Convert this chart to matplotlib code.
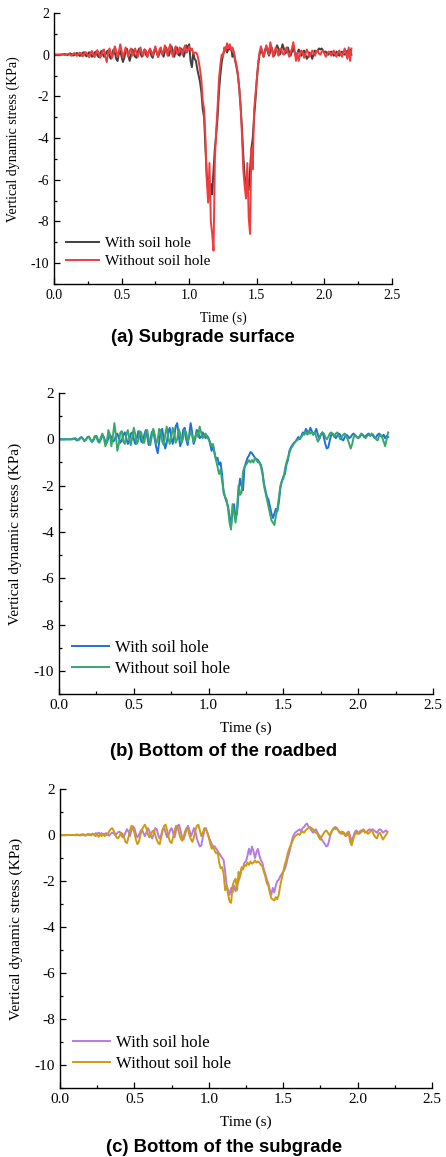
import numpy as np
import matplotlib
matplotlib.use("Agg")
import matplotlib.pyplot as plt
from matplotlib.ticker import MultipleLocator


plt.rcParams["font.family"] = ["Liberation Serif", "DejaVu Serif"]
plt.rcParams["axes.unicode_minus"] = False

# time axis, 0.00 .. 2.20 s every 0.01 s
time_s = np.round(np.arange(221) * 0.01, 2)

# (a) Subgrade surface
a_with = [
    0, 0, 0, 0, 0, 0, 0, 0.02, 0.03, 0.01,
    -0.02, 0.03, 0.06, 0.02, -0.04, -0.02, 0.05, 0.08, 0.02, -0.06,
    -0.03, 0.08, 0.12, 0.0, -0.08, 0.02, 0.12, 0.05, -0.1, -0.05,
    0.1, 0.15, -0.02, -0.12, 0.05, 0.18, 0.05, -0.1, -0.02, 0.15,
    0.2, -0.05, -0.2, 0.05, 0.25, 0.1, -0.2, -0.3, 0.05, 0.2,
    -0.1, -0.35, -0.15, 0.2, 0.28, -0.05, -0.3, 0.0, 0.25, 0.15,
    -0.1, -0.15, 0.15, 0.3, 0.05, -0.1, 0.1, 0.25, 0.0, -0.1,
    0.15, 0.25, -0.05, -0.15, 0.1, 0.3, 0.1, -0.1, 0.05, 0.25,
    0.1, -0.1, 0.15, 0.35, 0.1, -0.05, 0.2, 0.4, 0.05, -0.1,
    0.2, 0.35, 0.0, -0.05, 0.3, 0.2, -0.1, 0.15, 0.45, 0.3,
    0.5, -0.3, -0.6, 0.1, -0.2, -0.3, -0.7, -1.0, -1.3, -1.8,
    -2.6, -3.0, -4.5, -5.8, -6.5, -6.8, -6.2, -6.7, -5.5, -4.5,
    -3.8, -3.0, -1.8, -1.0, -0.4, 0.0, 0.2, 0.35, 0.1, 0.3,
    0.25, 0.35, -0.1, 0.05, -0.3, -0.6, -1.0, -1.6, -2.5, -3.5,
    -4.8, -5.8, -6.3, -6.0, -6.5, -5.5, -4.5, -4.0, -3.0, -2.2,
    -1.2, -0.5, 0.0, 0.2, 0.1, -0.1, 0.2, 0.4, 0.15, -0.05,
    0.15, 0.35, 0.1, -0.05, 0.2, 0.45, 0.3, 0.0, 0.2, 0.5,
    0.3, 0.05, 0.15, 0.35, 0.1, -0.05, 0.15, 0.3, 0.1, -0.1,
    0.05, 0.25, 0.15, -0.05, 0.1, 0.2, 0.0, -0.2, -0.1, 0.1,
    0.0, -0.2, 0.05, 0.2, 0.1, 0.2, 0.3, 0.25, 0.3, 0.2,
    0.1, 0.15, 0.05, 0.0, 0.1, 0.15, 0.05, -0.05, 0.05, 0.15,
    0.05, -0.05, 0.1, 0.15, 0.05, 0.0, 0.1, 0.2, 0.05, 0.25,
    0.0,
]
a_without = [
    0, 0, 0, 0, 0, 0, 0.02, 0.01, -0.02, 0.0,
    0.03, 0.05, -0.02, -0.05, 0.04, 0.08, 0.0, -0.06, 0.03, 0.1,
    0.05, -0.08, -0.03, 0.12, 0.1, -0.05, -0.12, 0.08, 0.18, 0.0,
    -0.12, 0.05, 0.22, 0.1, -0.15, -0.05, 0.2, 0.25, -0.1, -0.35,
    0.05, 0.3, 0.1, -0.15, 0.1, 0.4, 0.2, -0.1, 0.15, 0.5,
    0.2, -0.15, 0.1, 0.35, 0.1, -0.1, 0.2, 0.3, -0.05, 0.05,
    0.3, 0.1, -0.1, 0.15, 0.35, 0.05, -0.05, 0.25, 0.2, -0.1,
    0.1, 0.3, 0.15, -0.05, 0.2, 0.4, 0.1, -0.1, 0.25, 0.35,
    0.0, 0.15, 0.45, 0.2, -0.05, 0.3, 0.5, 0.1, -0.1, 0.25,
    0.4, 0.05, 0.1, 0.35, 0.2, 0.0, 0.3, 0.45, 0.1, 0.2,
    0.4, 0.2, 0.3, 0.05, 0.1, 0.1, 0.0, -0.3, -0.7, -1.2,
    -2.2, -2.6, -4.0, -6.0, -7.1, -5.2, -8.0, -8.6, -9.4, -5.0,
    -3.6, -2.5, -1.2, -0.5, 0.0, -0.1, 0.35, 0.2, 0.55, 0.3,
    0.5, 0.2, 0.35, 0.15, -0.2, -0.5, -0.9, -1.6, -2.4, -3.8,
    -5.5, -6.3, -6.9, -5.2, -7.8, -8.6, -4.5, -5.5, -2.7, -1.9,
    -1.2, -0.4, 0.1, 0.4, 0.2, -0.1, 0.1, 0.45, 0.3, 0.0,
    0.6, 0.3, -0.1, 0.1, 0.35, 0.15, -0.05, 0.25, 0.3, 0.05,
    0.0, 0.2, 0.35, 0.1, -0.1, 0.1, 0.3, 0.6, 0.2, -0.3,
    0.1, -0.3, 0.0, 0.2, 0.1, -0.15, 0.05, 0.25, 0.1, -0.1,
    0.05, 0.2, 0.1, -0.05, 0.15, 0.2, 0.05, 0.0, 0.15, 0.2,
    0.05, -0.1, 0.0, 0.15, 0.1, -0.05, 0.1, 0.2, 0.0, -0.1,
    0.1, 0.2, 0.05, -0.1, 0.1, 0.3, 0.05, -0.2, 0.35, -0.3,
    0.3,
]

# (b) Bottom of the roadbed
b_with = [
    0, 0, 0, 0, 0, 0, 0, 0, 0, 0.02,
    0.04, 0.0, -0.05, -0.02, 0.06, 0.1, 0.02, -0.08, -0.02, 0.1,
    0.12, 0.0, -0.1, -0.05, 0.1, 0.15, 0.0, -0.12, 0.0, 0.15,
    0.1, -0.1, -0.15, 0.05, 0.2, 0.1, -0.1, -0.05, 0.15, 0.25,
    0.05, -0.15, -0.05, 0.2, 0.3, 0.05, -0.2, -0.05, 0.25, 0.3,
    0.0, -0.2, 0.05, 0.35, 0.2, -0.1, -0.15, 0.2, 0.4, 0.1,
    -0.25, -0.1, 0.3, 0.4, 0.0, -0.35, -0.6, -0.1, 0.35, 0.45,
    0.0, -0.4, -0.15, 0.3, 0.5, 0.1, -0.2, 0.1, 0.55, 0.7,
    0.2, -0.3, -0.1, 0.4, 0.5, 0.0, -0.25, 0.2, 0.7, 0.3,
    -0.2, 0.0, 0.4, 0.35, 0.05, 0.1, 0.3, 0.2, 0.05, 0.15,
    0.05, -0.2, -0.5, -0.3, -0.6, -0.9, -0.8, -1.1, -1.0, -1.5,
    -2.3, -2.5, -2.7, -2.9, -3.3, -3.8, -3.0, -2.8, -3.4, -3.2,
    -2.3, -1.7, -2.0, -2.2, -1.2, -1.0, -0.8, -0.7, -0.55, -0.6,
    -0.7, -0.8, -0.85, -0.9, -1.0, -1.1, -1.4, -1.9, -2.2, -2.5,
    -2.6, -2.9, -3.2, -3.4, -3.2, -3.0, -3.1, -2.7, -2.1, -1.8,
    -1.6, -1.5, -1.1, -0.9, -0.5, -0.35, -0.25, -0.15, -0.1, 0.0,
    0.1, 0.0, 0.15, 0.3, 0.2, 0.45, 0.35, 0.25, 0.5, 0.35,
    0.2, 0.3, 0.45, 0.2, 0.05, 0.2, 0.3, 0.1, -0.2, -0.4,
    -0.35, -0.05, 0.2, 0.25, 0.15, 0.05, 0.15, 0.25, 0.2, 0.0,
    -0.05, 0.1, 0.2, 0.15, 0.05, 0.1, 0.2, 0.25, 0.15, 0.1,
    0.05, 0.1, 0.2, 0.2, 0.1, 0.15, 0.2, 0.25, 0.15, 0.2,
    0.15, 0.05, 0.1, 0.2, 0.25, 0.15, 0.1, 0.2, 0.05, 0.15,
    0.1,
]
b_without = [
    0, 0, 0, 0, 0, 0, 0, 0, 0, 0,
    0.02, 0.05, 0.0, -0.04, 0.02, 0.08, 0.03, -0.06, -0.02, 0.08,
    0.1, -0.02, -0.12, 0.0, 0.15, 0.12, -0.1, -0.15, 0.1, 0.25,
    0.05, -0.3, -0.1, 0.4, 0.2, -0.3, 0.1, 0.7, 0.2, -0.5,
    -0.2, 0.3, 0.35, -0.1, -0.2, 0.2, 0.4, 0.0, -0.25, 0.1,
    0.5, 0.2, -0.2, -0.05, 0.35, 0.3, -0.1, -0.15, 0.3, 0.4,
    0.0, -0.25, 0.1, 0.45, 0.2, -0.2, 0.0, 0.45, 0.35, -0.1,
    -0.25, 0.2, 0.55, 0.1, -0.2, 0.05, 0.5, 0.3, -0.15, 0.0,
    0.45, 0.25, -0.15, 0.05, 0.4, 0.3, -0.1, 0.1, 0.35, 0.15,
    -0.1, 0.1, 0.3, 0.1, 0.55, 0.3, 0.05, 0.15, 0.25, 0.1,
    0.0, -0.1, -0.3, -0.2, -0.6, -0.9, -1.2, -1.5, -1.3, -1.8,
    -2.2, -2.5, -2.6, -3.0, -3.6, -3.9, -2.8, -3.2, -3.6, -3.0,
    -2.0, -2.4, -2.3, -1.4, -1.2, -1.1, -1.0, -0.9, -1.0, -0.9,
    -1.0, -0.8, -0.9, -1.0, -1.0, -1.2, -1.5, -2.0, -2.3, -2.6,
    -2.9, -3.2, -3.5, -3.6, -3.7, -3.3, -3.0, -2.5, -2.0, -1.8,
    -1.7, -1.3, -1.0, -0.8, -0.6, -0.4, -0.3, -0.2, -0.1, -0.05,
    0.0, 0.05, 0.1, 0.2, 0.25, 0.3, 0.2, 0.35, 0.25, 0.3,
    0.2, 0.3, 0.1, -0.1, 0.0, 0.2, 0.3, 0.25, 0.1, 0.0,
    0.1, 0.25, 0.3, 0.2, 0.1, 0.25, 0.3, 0.15, 0.0, 0.1,
    0.2, 0.25, 0.1, 0.0, -0.2, -0.4, -0.2, 0.1, 0.2, 0.1,
    0.05, 0.15, 0.25, 0.2, 0.1, 0.05, 0.15, 0.2, 0.15, 0.25,
    0.2, 0.1, 0.0, -0.05, 0.15, 0.2, 0.1, -0.1, -0.3, 0.0,
    0.3,
]

# (c) Bottom of the subgrade
c_with = [
    0, 0, 0, 0, 0, 0, 0, 0, 0, 0,
    0, 0.02, 0, -0.02, 0.02, 0, 0.03, -0.02, 0.02, 0.05,
    0.0, 0.03, 0.06, 0.02, 0.08, 0.05, 0.1, 0.05, 0.08, 0.02,
    0.05, 0.08, 0.02, -0.03, 0.05, 0.1, 0.08, 0.0, 0.05, 0.12,
    0.15, 0.05, -0.1, -0.05, 0.1, 0.25, 0.15, -0.05, 0.2, 0.38,
    0.3, 0.05, -0.1, 0.0, 0.15, 0.25, 0.1, -0.05, 0.1, 0.3,
    0.2, -0.05, -0.15, 0.05, 0.3, 0.25, 0.0, -0.15, 0.0, 0.25,
    0.3, 0.1, -0.1, 0.0, 0.2, 0.3, 0.1, -0.1, 0.2, 0.4,
    0.45, 0.2, -0.1, -0.2, 0.0, 0.25, 0.4, 0.2, -0.05, 0.1,
    0.3, 0.15, -0.15, -0.35, -0.5, -0.45, -0.1, 0.2, 0.3, 0.1,
    -0.1, -0.25, -0.4, -0.5, -0.5, -0.6, -0.7, -0.8, -0.9, -1.0,
    -1.1, -1.6, -2.2, -2.4, -2.6, -2.3, -2.5, -2.2, -2.45, -2.2,
    -2.0, -1.8, -1.5, -1.4, -1.2, -1.15, -0.9, -0.6, -0.85, -0.5,
    -0.7, -1.0, -0.75, -0.6, -0.9, -1.1, -1.2, -1.5, -1.7, -1.95,
    -2.1, -2.4, -2.6, -2.3, -2.5, -2.2, -2.0, -1.95, -1.8, -1.7,
    -1.6, -1.5, -1.3, -1.0, -0.8, -0.5, -0.2, 0.0, 0.1, 0.15,
    0.2, 0.25, 0.15, 0.3, 0.35, 0.45, 0.5, 0.35, 0.3, 0.2,
    0.1, 0.2, 0.25, 0.1, 0.0, -0.1, -0.2, -0.3, -0.4, -0.5,
    -0.45, -0.2, 0.1, 0.2, 0.3, 0.35, 0.3, 0.2, 0.1, 0.05,
    0.15, 0.05, -0.05, 0.1, 0.15, -0.05, -0.3, -0.1, 0.1, 0.2,
    0.15, 0.05, 0.1, 0.2, 0.25, 0.15, 0.1, 0.2, 0.25, 0.2,
    0.25, 0.2, 0.15, 0.1, 0.2, 0.25, 0.2, 0.1, 0.15, 0.2,
    0.15,
]
c_without = [
    0, 0, 0, 0, 0, 0, 0, 0, 0, 0,
    0.0, -0.02, 0.02, 0.0, -0.02, 0.03, 0.0, -0.03, 0.02, 0.0,
    0.03, -0.02, 0.05, 0.0, -0.05, 0.03, -0.08, 0.02, -0.05, 0.05,
    -0.05, 0.0, 0.05, 0.15, 0.25, 0.3, 0.2, 0.05, -0.1, -0.15,
    -0.05, 0.1, 0.05, -0.1, -0.3, -0.35, -0.1, 0.2, 0.4, 0.3,
    0.1, -0.2, -0.4, -0.3, 0.0, 0.2, 0.35, 0.45, 0.3, 0.05,
    -0.1, 0.0, 0.15, 0.2, 0.0, -0.2, -0.35, -0.4, -0.1, 0.2,
    0.4, 0.45, 0.2, -0.1, -0.3, -0.35, -0.1, 0.2, 0.4, 0.35,
    0.1, -0.15, -0.25, -0.1, 0.15, 0.3, 0.25, 0.0, -0.2, -0.3,
    -0.1, 0.2, 0.4, 0.45, 0.2, -0.05, 0.1, 0.3, 0.25, 0.1,
    -0.1, -0.4, -0.6, -0.5, -0.7, -0.8, -0.75, -1.2, -1.45, -1.4,
    -1.7, -2.4, -2.2, -2.6, -2.9, -2.95, -2.2, -2.0, -1.9, -2.4,
    -1.6, -1.8, -1.4, -1.5, -1.3, -1.35, -1.2, -1.3, -1.15, -1.25,
    -1.2, -1.1, -1.2, -1.15, -1.2, -1.3, -1.35, -1.6, -1.8, -2.1,
    -2.2, -2.5, -2.75, -2.8, -2.85, -2.7, -2.8, -2.6, -2.2, -1.9,
    -1.6, -1.3, -1.1, -0.8, -0.6, -0.45, -0.3, -0.15, -0.05, 0.0,
    0.05, 0.0, 0.1, 0.15, 0.1, 0.2, 0.25, 0.3, 0.35, 0.3,
    0.25, 0.15, 0.1, 0.05, -0.1, -0.2, -0.05, 0.05, 0.15, 0.2,
    0.1, 0.0, 0.05, 0.2, 0.3, 0.25, 0.3, 0.2, 0.1, 0.15,
    0.05, 0.1, -0.05, 0.0, 0.1, -0.3, -0.45, -0.2, 0.0, 0.1,
    0.05, 0.1, 0.2, 0.15, 0.2, 0.1, 0.15, 0.05, 0.1, 0.2,
    0.15, 0.0, -0.1, -0.15, 0.05, 0.1, -0.05, -0.2, -0.1, 0.0,
    0.1,
]

x_ticks = [0.0, 0.5, 1.0, 1.5, 2.0, 2.5]
y_ticks = [-10, -8, -6, -4, -2, 0, 2]
legend_labels = ["With soil hole", "Without soil hole"]

W, H = 446, 1157
fig = plt.figure(figsize=(W / 100, H / 100), dpi=100)


def px_axes(left, top, right, bottom):
    # pixel box -> figure fraction
    return [left / W, 1 - bottom / H, (right - left) / W, (bottom - top) / H]


def draw_panel(box, s_with, s_without, colors, fs, legend_y, title, title_xy):
    ax = fig.add_axes(px_axes(*box))
    ax.plot(time_s, s_with, color=colors[0], lw=1.4, label=legend_labels[0])
    ax.plot(time_s, s_without, color=colors[1], lw=1.4, label=legend_labels[1])

    ax.set_xlim(0, 2.5)
    ax.set_ylim(-11, 2)
    ax.set_xticks(x_ticks)
    ax.set_xticklabels([f"{v:.1f}" for v in x_ticks])
    ax.set_yticks(y_ticks)
    ax.set_yticklabels([str(v) for v in y_ticks])
    ax.xaxis.set_minor_locator(MultipleLocator(0.25))
    ax.yaxis.set_minor_locator(MultipleLocator(1))
    ax.tick_params(which="both", direction="in", labelsize=fs, width=0.9)
    ax.tick_params(which="major", length=4)
    ax.tick_params(which="minor", length=2.5)
    ax.spines["top"].set_visible(False)
    ax.spines["right"].set_visible(False)
    for s in ("left", "bottom"):
        ax.spines[s].set_linewidth(1.0)

    ax.set_xlabel("Time (s)", fontsize=fs, labelpad=7)
    ax.set_ylabel("Vertical dynamic stress (KPa)", fontsize=fs)
    ax.yaxis.set_label_coords(-0.1, 0.533)

    ax.legend(loc="lower left", bbox_to_anchor=(0.035, legend_y), frameon=False,
              fontsize=fs + 1, handlelength=2.2, handletextpad=0.35,
              labelspacing=0.3, borderpad=0, borderaxespad=0)

    fig.text(title_xy[0] / W, 1 - title_xy[1] / H, title, ha="center", va="center",
             family=["Liberation Sans", "DejaVu Sans"], fontweight="bold",
             fontsize=13.3)
    return ax


draw_panel((54, 13, 392, 284), a_with, a_without, ("#404040", "#f03c3c"), 10, 0.058,
           "(a) Subgrade surface", (203, 338))
draw_panel((59, 393, 433, 694), b_with, b_without, ("#1f6fe0", "#35a86a"), 11, 0.058,
           "(b) Bottom of the roadbed", (224, 752))
draw_panel((60, 789, 432, 1088), c_with, c_without, ("#b47be6", "#d09a12"), 11, 0.055,
           "(c) Bottom of the subgrade", (224, 1147))

fig.savefig("out.png", dpi=100)
